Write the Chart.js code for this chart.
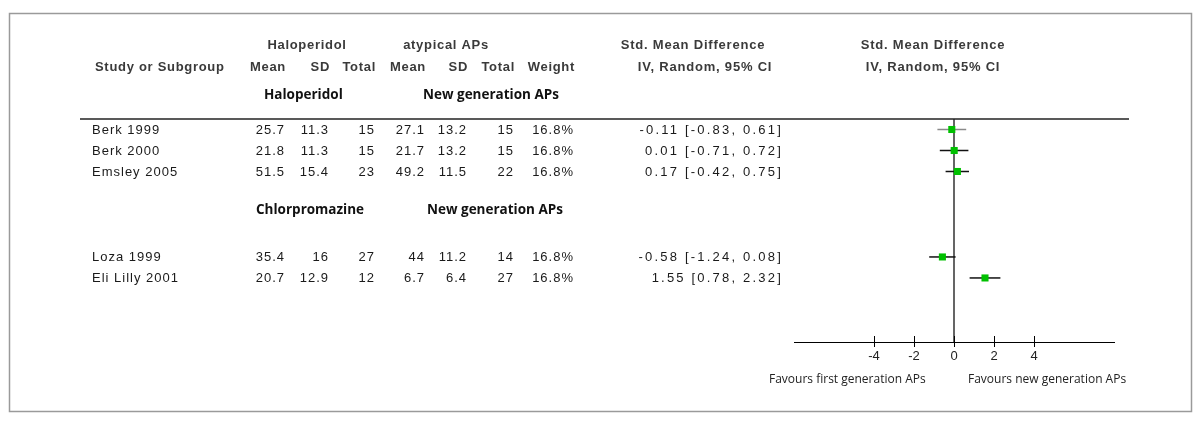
<!DOCTYPE html>
<html>
<head>
<meta charset="utf-8">
<script src="https://cdn.jsdelivr.net/npm/chart.js@4.4.1/dist/chart.umd.min.js"></script>
<style>
    html, body { margin: 0; padding: 0; background: #fff; }
    #wrap { width: 1200px; height: 424px; }
</style>
</head>
<body>
<div id="wrap"><canvas id="forest" width="1200" height="424"></canvas></div>
<script>
(function () {
    "use strict";

    // study rows
    const studies = ['Berk 1999', 'Berk 2000', 'Emsley 2005', 'Loza 1999', 'Eli Lilly 2001'];
    const studyGroup = [0, 0, 0, 1, 1];
    const groupFirstGen = ['Haloperidol', 'Chlorpromazine'];
    const groupNewGen = ['New generation APs', 'New generation APs'];

    // first generation arm
    const firstMean = [25.7, 21.8, 51.5, 35.4, 20.7];
    const firstSD = [11.3, 11.3, 15.4, 16, 12.9];
    const firstTotal = [15, 15, 23, 27, 12];

    // new generation arm
    const newMean = [27.1, 21.7, 49.2, 44, 6.7];
    const newSD = [13.2, 13.2, 11.5, 11.2, 6.4];
    const newTotal = [15, 15, 22, 14, 27];

    // effect sizes
    const weight = [16.8, 16.8, 16.8, 16.8, 16.8];
    const smd = [-0.11, 0.01, 0.17, -0.58, 1.55];
    const ciLow = [-0.83, -0.71, -0.42, -1.24, 0.78];
    const ciHigh = [0.61, 0.72, 0.75, 0.08, 2.32];

    // axis
    const xTicks = [-4, -2, 0, 2, 4];
    const xMin = -8, xMax = 8;

    // row slots on the y scale (one unit = one table line)
    const Y_MAX = 10.62;
    const rowY = studies.map((s, i) => i + 0.5 + (studyGroup[i] === 1 ? 3.07 : 0));

    const green = '#00c000';
    const dataFont = '13px "Liberation Sans", Arial, sans-serif';
    const headFont = 'bold 13px "Liberation Sans", Arial, sans-serif';
    const groupFont = 'bold 13.5px "Open Sans", sans-serif';
    const footFont = '12px "Open Sans", sans-serif';

    let datasets = [];

    datasets.push({
        type: 'scatter',
        label: 'SMD',
        order: 0,
        data: studies.map((s, i) => ({ x: smd[i], y: rowY[i] })),
        pointStyle: 'rect',
        pointRadius: 5,
        pointHoverRadius: 5,
        pointBackgroundColor: green,
        pointBorderWidth: 0
    });

    studies.forEach(function (s, i) {
        datasets.push({
            type: 'line',
            label: s,
            order: 1,
            data: [{ x: ciLow[i], y: rowY[i] }, { x: ciHigh[i], y: rowY[i] }],
            borderColor: i === 0 ? '#8a8a8a' : '#111',
            borderWidth: 1.5,
            pointRadius: 0,
            fill: false
        });
    });

    // line of no effect
    datasets.push({
        type: 'line',
        label: 'zero',
        order: 2,
        data: [{ x: 0, y: 0 }, { x: 0, y: Y_MAX }],
        borderColor: '#333',
        borderWidth: 1.5,
        pointRadius: 0,
        fill: false
    });

    function txt(ctx, s, x, y, align, font, color, spacing) {
        ctx.font = font;
        ctx.fillStyle = color;
        ctx.textAlign = align;
        ctx.textBaseline = 'middle';
        ctx.letterSpacing = (spacing || 0) + 'px';
        ctx.fillText(s, x, y);
        ctx.letterSpacing = '0px';
    }

    const tablePlugin = {
        id: 'forestTable',
        afterDraw(chart) {
            const ctx = chart.ctx;
            const xs = chart.scales.x;
            const ys = chart.scales.y;
            const area = chart.chartArea;
            ctx.save();

            // frame
            ctx.strokeStyle = '#9a9a9a';
            ctx.lineWidth = 1.5;
            ctx.strokeRect(9.5, 13.5, 1182, 398);

            // rule under header
            ctx.strokeStyle = '#222';
            ctx.lineWidth = 1.5;
            ctx.beginPath();
            ctx.moveTo(80, area.top);
            ctx.lineTo(1129, area.top);
            ctx.stroke();

            // upper half of axis ticks
            ctx.strokeStyle = '#000';
            ctx.lineWidth = 1;
            xTicks.forEach(function (v) {
                const px = Math.round(xs.getPixelForValue(v)) + 0.5;
                ctx.beginPath();
                ctx.moveTo(px, area.bottom - 6);
                ctx.lineTo(px, area.bottom);
                ctx.stroke();
            });

            // headers
            const hc = '#3a3a3a';
            txt(ctx, 'Haloperidol', 307, 45, 'center', headFont, hc, 0.7);
            txt(ctx, 'atypical APs', 446, 45, 'center', headFont, hc, 0.7);
            txt(ctx, 'Std. Mean Difference', 693, 45, 'center', headFont, hc, 0.8);
            txt(ctx, 'Std. Mean Difference', 933, 45, 'center', headFont, hc, 0.8);
            txt(ctx, 'Study or Subgroup', 95, 67, 'left', headFont, hc, 0.7);
            const heads = ['Mean', 'SD', 'Total', 'Mean', 'SD', 'Total', 'Weight'];
            const cols = [285, 329, 375, 425, 467, 514, 574];
            heads.forEach(function (h, k) {
                txt(ctx, h, cols[k] + 1, 67, 'right', headFont, hc, 0.7);
            });
            txt(ctx, 'IV, Random, 95% CI', 705, 67, 'center', headFont, hc, 0.8);
            txt(ctx, 'IV, Random, 95% CI', 933, 67, 'center', headFont, hc, 0.8);

            // subgroup labels
            txt(ctx, groupFirstGen[0], 264, 95, 'left', groupFont, '#111', 0);
            txt(ctx, groupNewGen[0], 423, 95, 'left', groupFont, '#111', 0);
            const g2y = ys.getPixelForValue(4.33);
            txt(ctx, groupFirstGen[1], 256, g2y, 'left', groupFont, '#111', 0);
            txt(ctx, groupNewGen[1], 427, g2y, 'left', groupFont, '#111', 0);

            // study rows
            const dc = '#1a1a1a';
            studies.forEach(function (s, i) {
                const y = ys.getPixelForValue(rowY[i]) + 0.5;
                txt(ctx, s, 92, y, 'left', dataFont, dc, 1.0);
                const cells = [firstMean[i], firstSD[i], firstTotal[i], newMean[i], newSD[i], newTotal[i], weight[i].toFixed(1) + '%'];
                cells.forEach(function (c, k) {
                    txt(ctx, String(c), cols[k], y, 'right', dataFont, dc, 1.0);
                });
                const ci = smd[i].toFixed(2) + ' [' + ciLow[i].toFixed(2) + ', ' + ciHigh[i].toFixed(2) + ']';
                txt(ctx, ci, 783, y, 'right', dataFont, dc, 2.2);
            });

            // favours labels
            const fy = 380;
            txt(ctx, 'Favours first generation APs', 769, fy, 'left', footFont, '#222', 0);
            txt(ctx, 'Favours new generation APs', 968, fy, 'left', footFont, '#222', 0);

            ctx.restore();
        }
    };

    let ctx = document.getElementById('forest').getContext('2d');
    let chart = new Chart(ctx, {
        type: 'scatter',
        data: { datasets: datasets },
        options: {
            responsive: false,
            animation: false,
            devicePixelRatio: 1,
            layout: {
                padding: { left: 794, right: 86, top: 119, bottom: 52 }
            },
            plugins: {
                legend: { display: false },
                tooltip: { enabled: false }
            },
            scales: {
                x: {
                    type: 'linear',
                    position: 'bottom',
                    min: xMin,
                    max: xMax,
                    afterBuildTicks: function (scale) {
                        scale.ticks = xTicks.map(v => ({ value: v }));
                    },
                    afterFit: function (scale) {
                        scale.height = 30;
                    },
                    grid: {
                        display: true,
                        drawOnChartArea: false,
                        drawTicks: true,
                        tickLength: 5,
                        color: '#000',
                        lineWidth: 1
                    },
                    border: { display: true, color: '#000', width: 1 },
                    ticks: {
                        padding: 2,
                        color: '#222',
                        font: { family: '"Liberation Sans", Arial, sans-serif', size: 13 },
                        maxRotation: 0,
                        autoSkip: false
                    }
                },
                y: {
                    type: 'linear',
                    display: false,
                    reverse: true,
                    min: 0,
                    max: Y_MAX
                }
            }
        },
        plugins: [tablePlugin]
    });
})();
</script>
</body>
</html>
